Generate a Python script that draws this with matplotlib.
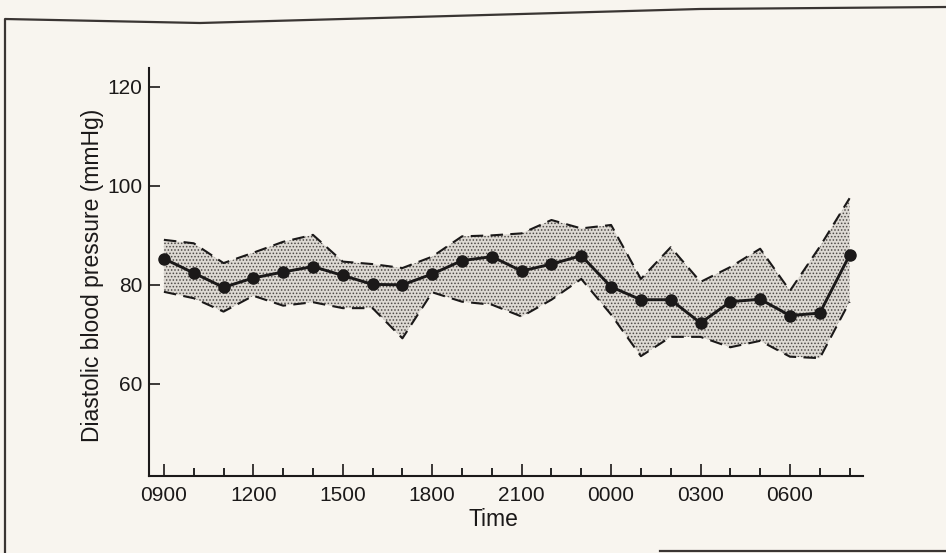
# Library imports
import matplotlib
matplotlib.use('Agg')
import matplotlib.pyplot as plt
from matplotlib.lines import Line2D


# Data (hourly readings, 0900 to 0800 next day)
hours = ['0900', '1000', '1100', '1200', '1300', '1400', '1500', '1600',
         '1700', '1800', '1900', '2000', '2100', '2200', '2300', '0000',
         '0100', '0200', '0300', '0400', '0500', '0600', '0700', '0800']
mean_dbp = [85.3, 82.4, 79.5, 81.4, 82.6, 83.7, 81.9, 80.1, 80.0, 82.2,
            84.9, 85.7, 82.8, 84.2, 85.9, 79.6, 77.0, 77.0, 72.3, 76.6,
            77.1, 73.8, 74.3, 86.0]
upper_dbp = [89.1, 88.4, 84.4, 86.5, 88.7, 90.1, 84.7, 84.2, 83.4, 85.7,
             89.8, 90.0, 90.4, 93.1, 91.4, 92.1, 81.2, 87.6, 80.6, 83.6,
             87.3, 78.8, 87.7, 97.5]
lower_dbp = [78.6, 77.3, 74.6, 77.8, 75.8, 76.5, 75.3, 75.3, 69.2, 78.5,
             76.6, 76.0, 73.6, 77.0, 81.2, 74.0, 65.6, 69.5, 69.5, 67.4,
             68.7, 65.5, 65.2, 76.6]
labelled_hours = ['0900', '1200', '1500', '1800', '2100', '0000', '0300', '0600']
y_ticks = [60, 80, 100, 120]

paper = '#f8f5ef'
ink = '#1b1919'

plt.rcParams['font.family'] = ['Liberation Sans', 'DejaVu Sans']
plt.rcParams['hatch.color'] = '#4e4a47'
plt.rcParams['hatch.linewidth'] = 0.7

fig = plt.figure(figsize=(9.46, 5.53), dpi=100, facecolor=paper)
ax = fig.add_axes([149 / 946, 1 - 476 / 553, 714 / 946, 408 / 553])
ax.set_facecolor(paper)

x = list(range(len(hours)))

# stippled band between the dashed limits
ax.fill_between(x, lower_dbp, upper_dbp, facecolor='#ddd9d3', edgecolor='none',
                hatch='.....', linewidth=0, zorder=1)
for band in (upper_dbp, lower_dbp):
    line, = ax.plot(x, band, color=ink, linewidth=1.5, zorder=2)
    line.set_dashes((6, 3.5))

ax.plot(x, mean_dbp, color=ink, linewidth=2.1, marker='o', markersize=8,
        zorder=3)

ax.set_xlim(-0.5, 23.45)
ax.set_ylim(41.4, 123.8)

ax.set_xticks([hours.index(h) for h in labelled_hours])
ax.set_xticklabels(labelled_hours)
ax.set_xticks(x, minor=True)
ax.set_yticks(y_ticks)

ax.tick_params(axis='x', which='major', direction='in', length=9, width=1.2,
               pad=7, labelsize=15, colors=ink)
ax.tick_params(axis='x', which='minor', direction='in', length=6, width=1.2)
ax.tick_params(axis='y', direction='in', length=8, width=1.2, pad=5,
               labelsize=15, colors=ink)

for side in ('top', 'right'):
    ax.spines[side].set_visible(False)
for side in ('left', 'bottom'):
    ax.spines[side].set_linewidth(1.5)
    ax.spines[side].set_color(ink)

fig.text(92 / 946, 1 - 275 / 553, 'Diastolic blood pressure (mmHg)',
         rotation=90, ha='center', va='center', fontsize=16.5, color=ink)
fig.text(493 / 946, 1 - 519 / 553, 'Time', ha='center', va='center',
         fontsize=16.5, color=ink)

# page frame around the figure
frame_x = [946, 700, 200, 5, 5]
frame_y = [7, 9, 23, 19, 553]
fig.add_artist(Line2D([v / 946 for v in frame_x], [1 - v / 553 for v in frame_y],
                      color='#3a3533', linewidth=1.6, transform=fig.transFigure))
fig.add_artist(Line2D([660 / 946, 1], [1 - 551 / 553, 1 - 551 / 553],
                      color='#3a3533', linewidth=1.6, transform=fig.transFigure))

fig.savefig('out.png', dpi=100, facecolor=paper)
